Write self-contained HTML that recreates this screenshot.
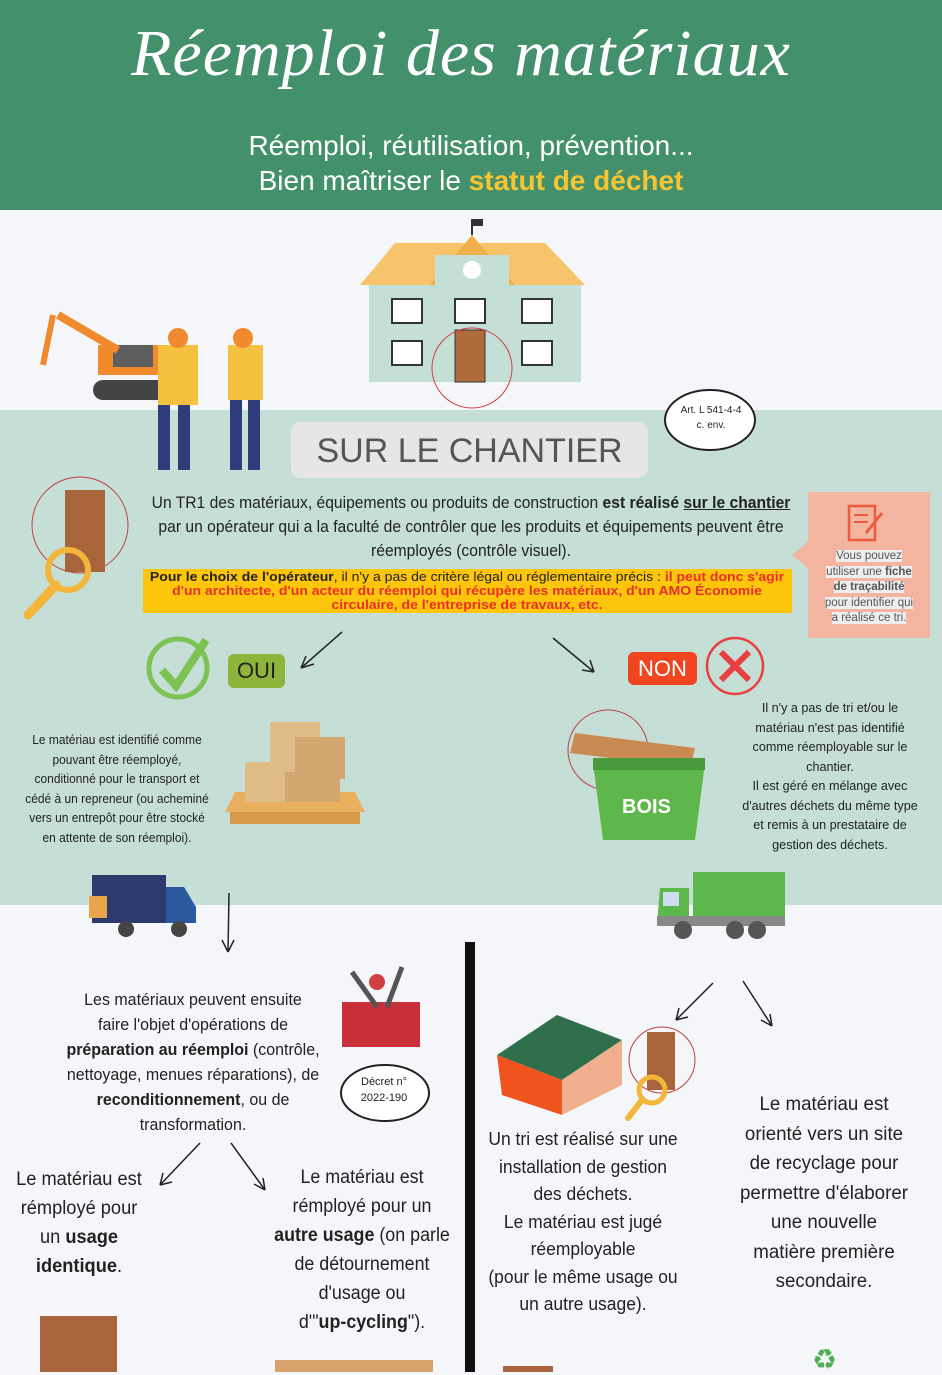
<!DOCTYPE html><html><head><meta charset="utf-8"><style>
body{margin:0;width:942px;height:1372px;position:relative;overflow:hidden;background:#f5f6fa;font-family:"Liberation Sans",sans-serif;color:#222}
.a{position:absolute}
.c{text-align:center}
.n{transform-origin:50% 0;white-space:nowrap}
</style></head><body>
<div class="a" style="left:0;top:0;width:942px;height:210px;background:#42906c"></div>
<div class="a c" style="left:-10px;top:16px;width:942px;font-family:'Liberation Serif',serif;font-style:italic;font-size:66px;color:#fff;letter-spacing:1px">Réemploi des matériaux</div>
<div class="a c" style="left:0;top:128px;width:942px;font-size:28px;line-height:35px;color:#fff">Réemploi, réutilisation, prévention...<br>Bien maîtriser le <b style="color:#f6c531">statut de déchet</b></div>
<div class="a" style="left:0;top:410px;width:942px;height:495px;background:#c5dfd7"></div>
<svg class="a" style="left:355px;top:215px" width="235" height="195"><polygon points="5,70 40,28 190,28 230,70" fill="#f7c46b"/><polygon points="75,70 117,20 160,70" fill="#f0b04c"/><rect x="14" y="70" width="212" height="97" fill="#c4dfd5"/><rect x="80" y="40" width="74" height="40" fill="#c4dfd5"/><circle cx="117" cy="55" r="9" fill="#fff"/><line x1="117" y1="20" x2="117" y2="4" stroke="#333" stroke-width="2"/><rect x="118" y="4" width="10" height="7" fill="#333"/><g fill="#fff" stroke="#333" stroke-width="2"><rect x="37" y="84" width="30" height="24"/><rect x="100" y="84" width="30" height="24"/><rect x="167" y="84" width="30" height="24"/><rect x="37" y="126" width="30" height="24"/><rect x="167" y="126" width="30" height="24"/></g><rect x="100" y="115" width="30" height="52" fill="#b06b3c" stroke="#333"/><circle cx="117" cy="153" r="40" fill="none" stroke="#d04040"/></svg>
<svg class="a" style="left:38px;top:300px" width="250" height="180"><rect x="60" y="45" width="70" height="30" fill="#f08a2c"/><rect x="75" y="45" width="40" height="22" fill="#5e5e5e"/><line x1="20" y1="15" x2="80" y2="50" stroke="#f08a2c" stroke-width="8"/><line x1="15" y1="15" x2="5" y2="65" stroke="#f08a2c" stroke-width="6"/><rect x="55" y="80" width="90" height="20" rx="10" fill="#444"/><rect x="120" y="45" width="40" height="60" fill="#f4c140"/><rect x="120" y="105" width="12" height="65" fill="#2f3d7a"/><rect x="140" y="105" width="12" height="65" fill="#2f3d7a"/><rect x="190" y="45" width="35" height="55" fill="#f4c140"/><rect x="192" y="100" width="12" height="70" fill="#2f3d7a"/><rect x="210" y="100" width="12" height="70" fill="#2f3d7a"/><circle cx="140" cy="38" r="10" fill="#f08a2c"/><circle cx="205" cy="38" r="10" fill="#f08a2c"/></svg>
<div class="a c" style="left:291px;top:422px;width:357px;height:56px;background:#e6e6e6;border-radius:10px;font-size:34px;line-height:58px;color:#555">SUR LE CHANTIER</div>
<svg class="a" style="left:662px;top:385px" width="100" height="75"><ellipse cx="48" cy="35" rx="45" ry="30" fill="#fff" stroke="#222" stroke-width="2"/></svg>
<div class="a c" style="left:665px;top:403px;width:92px;font-size:10px;line-height:15px">Art. L 541-4-4<br>c. env.</div>
<svg class="a" style="left:20px;top:475px" width="115" height="150"><circle cx="60" cy="50" r="48" fill="none" stroke="#c04040"/><rect x="45" y="15" width="40" height="82" fill="#a8643a"/><circle cx="48" cy="95" r="20" fill="none" stroke="#f4b63a" stroke-width="6"/><line x1="36" y1="110" x2="8" y2="140" stroke="#f4b63a" stroke-width="9" stroke-linecap="round"/></svg>
<div class="a c n" style="left:21px;top:491px;width:900px;font-size:17px;line-height:24px;transform:scaleX(.92)">Un TR1 des matériaux, équipements ou produits de construction <b>est réalisé <u>sur le chantier</u></b><br>par un opérateur qui a la faculté de contrôler que les produits et équipements peuvent être<br>réemployés (contrôle visuel).</div>
<div class="a" style="left:143px;top:569px;width:649px;height:44px;background:#fdc50c"></div>
<div class="a c n" style="left:17px;top:570px;width:900px;font-size:12.5px;line-height:14px;transform:scaleX(1.12)"><b>Pour le choix de l'opérateur</b>, il n'y a pas de critère légal ou réglementaire précis : <b style="color:#e8302a">il peut donc s'agir<br>d'un architecte, d'un acteur du réemploi qui récupère les matériaux, d'un AMO Économie<br>circulaire, de l'entreprise de travaux, etc.</b></div>
<div class="a" style="left:808px;top:492px;width:122px;height:146px;background:#f3b5a0"></div>
<svg class="a" style="left:792px;top:540px" width="18" height="30"><polygon points="18,0 0,15 18,30" fill="#f3b5a0"/></svg>
<svg class="a" style="left:846px;top:503px" width="40" height="42"><rect x="3" y="3" width="26" height="34" fill="none" stroke="#ef5a3c" stroke-width="2.5"/><line x1="8" y1="12" x2="22" y2="12" stroke="#ef5a3c" stroke-width="2"/><line x1="8" y1="19" x2="22" y2="19" stroke="#ef5a3c" stroke-width="2"/><line x1="20" y1="30" x2="36" y2="10" stroke="#ef5a3c" stroke-width="3"/></svg>
<div class="a c n" style="left:809px;top:549px;width:120px;font-size:11.5px;line-height:15.5px;color:#555"><span style="background:#eee">Vous pouvez<br>utiliser une <b>fiche<br>de traçabilité</b><br>pour identifier qui<br>a réalisé ce tri.</span></div>
<svg class="a" style="left:0;top:0" width="942" height="1372"><g stroke="#222" stroke-width="1.5" fill="none"><path d="M342,632 L301,668 M301,668 L314,664 M301,668 L306,656"/><path d="M553,638 L594,672 M594,672 L582,670 M594,672 L590,660"/><path d="M229,893 L228,952 M228,952 L222,940 M228,952 L234,940"/><path d="M200,1143 L160,1185 M160,1185 L172,1182 M160,1185 L163,1173"/><path d="M231,1143 L265,1190 M265,1190 L263,1178 M265,1190 L254,1184"/><path d="M713,983 L676,1020 M676,1020 L688,1017 M676,1020 L679,1008"/><path d="M743,981 L772,1026 M772,1026 L770,1014 M772,1026 L761,1020"/></g><rect x="465" y="942" width="10" height="430" fill="#111"/></svg>
<svg class="a" style="left:146px;top:634px" width="70" height="70"><circle cx="32" cy="34" r="29" fill="none" stroke="#7cc353" stroke-width="5"/><path d="M16,36 L30,52 L60,6" stroke="#7cc353" stroke-width="8" fill="none"/></svg>
<div class="a c" style="left:228px;top:654px;width:57px;height:34px;background:#8db53c;border-radius:6px;font-size:22px;line-height:34px;color:#222">OUI</div>
<div class="a c" style="left:628px;top:652px;width:69px;height:33px;background:#f0451e;border-radius:6px;font-size:22px;line-height:33px;color:#fff">NON</div>
<svg class="a" style="left:704px;top:636px" width="64" height="62"><circle cx="31" cy="30" r="28" fill="none" stroke="#e84040" stroke-width="2.5"/><path d="M17,16 L45,44 M45,16 L17,44" stroke="#e84040" stroke-width="6"/></svg>
<div class="a c n" style="left:-33px;top:730px;width:300px;font-size:13px;line-height:19.5px;transform:scaleX(.92)">Le matériau est identifié comme<br>pouvant être réemployé,<br>conditionné pour le transport et<br>cédé à un repreneur (ou acheminé<br>vers un entrepôt pour être stocké<br>en attente de son réemploi).</div>
<svg class="a" style="left:225px;top:712px" width="140" height="120"><polygon points="10,80 130,80 140,100 0,100" fill="#e9b060"/><rect x="5" y="100" width="130" height="12" fill="#d89a4a"/><rect x="45" y="10" width="50" height="40" fill="#e0bc88"/><rect x="70" y="25" width="50" height="42" fill="#d4a770"/><rect x="20" y="50" width="50" height="40" fill="#e0bc88"/><rect x="60" y="60" width="55" height="30" fill="#d4a770"/></svg>
<div class="a c n" style="left:700px;top:698px;width:260px;font-size:13px;line-height:19.5px;transform:scaleX(.97)">Il n'y a pas de tri et/ou le<br>matériau n'est pas identifié<br>comme réemployable sur le<br>chantier.<br>Il est géré en mélange avec<br>d'autres déchets du même type<br>et remis à un prestataire de<br>gestion des déchets.</div>
<svg class="a" style="left:565px;top:708px" width="145" height="140"><circle cx="43" cy="42" r="40" fill="none" stroke="#c04040"/><polygon points="10,25 130,40 125,60 5,45" fill="#c98b52"/><polygon points="28,55 140,55 130,132 38,132" fill="#5db74a"/><rect x="28" y="50" width="112" height="12" fill="#4a9a3c"/></svg>
<div class="a" style="left:622px;top:796px;font-weight:bold;font-size:20px;color:#fff">BOIS</div>
<svg class="a" style="left:84px;top:872px" width="120" height="68"><rect x="8" y="3" width="74" height="48" fill="#2c3a6e"/><polygon points="82,15 100,15 112,35 112,51 82,51" fill="#2c5aa0"/><rect x="5" y="24" width="18" height="22" fill="#e9a54c"/><circle cx="42" cy="57" r="8" fill="#444"/><circle cx="95" cy="57" r="8" fill="#444"/></svg>
<svg class="a" style="left:655px;top:868px" width="135" height="75"><rect x="38" y="4" width="92" height="52" fill="#5db74a"/><polygon points="5,20 34,20 34,56 2,56" fill="#5db74a"/><rect x="8" y="24" width="16" height="14" fill="#cde"/><rect x="2" y="48" width="128" height="10" fill="#888"/><circle cx="28" cy="62" r="9" fill="#555"/><circle cx="80" cy="62" r="9" fill="#555"/><circle cx="102" cy="62" r="9" fill="#555"/></svg>
<div class="a c n" style="left:18px;top:987px;width:350px;font-size:17px;line-height:25px;transform:scaleX(.94)">Les matériaux peuvent ensuite<br>faire l'objet d'opérations de<br><b>préparation au réemploi</b> (contrôle,<br>nettoyage, menues réparations), de<br><b>reconditionnement</b>, ou de<br>transformation.</div>
<svg class="a" style="left:332px;top:962px" width="95" height="90"><rect x="10" y="40" width="78" height="45" fill="#c8303a"/><line x1="20" y1="10" x2="45" y2="45" stroke="#555" stroke-width="5"/><line x1="70" y1="5" x2="55" y2="45" stroke="#555" stroke-width="5"/><circle cx="45" cy="20" r="8" fill="#d04040"/></svg>
<svg class="a" style="left:338px;top:1058px" width="95" height="72"><ellipse cx="47" cy="35" rx="44" ry="28" fill="#fff" stroke="#222" stroke-width="2"/></svg>
<div class="a c" style="left:340px;top:1074px;width:88px;font-size:11px;line-height:16px">Décret n°<br>2022-190</div>
<div class="a c n" style="left:-21px;top:1165px;width:200px;font-size:19px;line-height:29px;transform:scaleX(.96)">Le matériau est<br>rémployé pour<br>un <b>usage</b><br><b>identique</b>.</div>
<div class="a c n" style="left:237px;top:1163px;width:250px;font-size:19px;line-height:29px;transform:scaleX(.94)">Le matériau est<br>rémployé pour un<br><b>autre usage</b> (on parle<br>de détournement<br>d'usage ou<br>d'"<b>up-cycling</b>").</div>
<div class="a" style="left:40px;top:1316px;width:77px;height:56px;background:#a8643a"></div>
<div class="a" style="left:275px;top:1360px;width:158px;height:12px;background:#d7a36a"></div>
<svg class="a" style="left:492px;top:1010px" width="210" height="115"><polygon points="5,45 65,5 130,30 70,70" fill="#2f6f4c"/><polygon points="5,45 70,70 70,105 10,85" fill="#f0531e"/><polygon points="70,70 130,30 130,75 70,105" fill="#f0b090"/><circle cx="170" cy="50" r="33" fill="none" stroke="#c04040"/><rect x="155" y="22" width="28" height="58" fill="#a8643a"/><circle cx="160" cy="80" r="13" fill="none" stroke="#f4b63a" stroke-width="5"/><line x1="150" y1="90" x2="136" y2="108" stroke="#f4b63a" stroke-width="6" stroke-linecap="round"/></svg>
<div class="a c n" style="left:458px;top:1126px;width:250px;font-size:18px;line-height:27.5px;transform:scaleX(.97)">Un tri est réalisé sur une<br>installation de gestion<br>des déchets.<br>Le matériau est jugé<br>réemployable<br>(pour le même usage ou<br>un autre usage).</div>
<div class="a c n" style="left:699px;top:1090px;width:250px;font-size:19.5px;line-height:29.5px;transform:scaleX(.96)">Le matériau est<br>orienté vers un site<br>de recyclage pour<br>permettre d'élaborer<br>une nouvelle<br>matière première<br>secondaire.</div>
<div class="a" style="left:503px;top:1366px;width:50px;height:6px;background:#a8643a"></div>
<div class="a" style="left:812px;top:1348px;width:34px;height:24px;color:#4caf50;font-size:28px;line-height:24px">♻</div>
</body></html>
